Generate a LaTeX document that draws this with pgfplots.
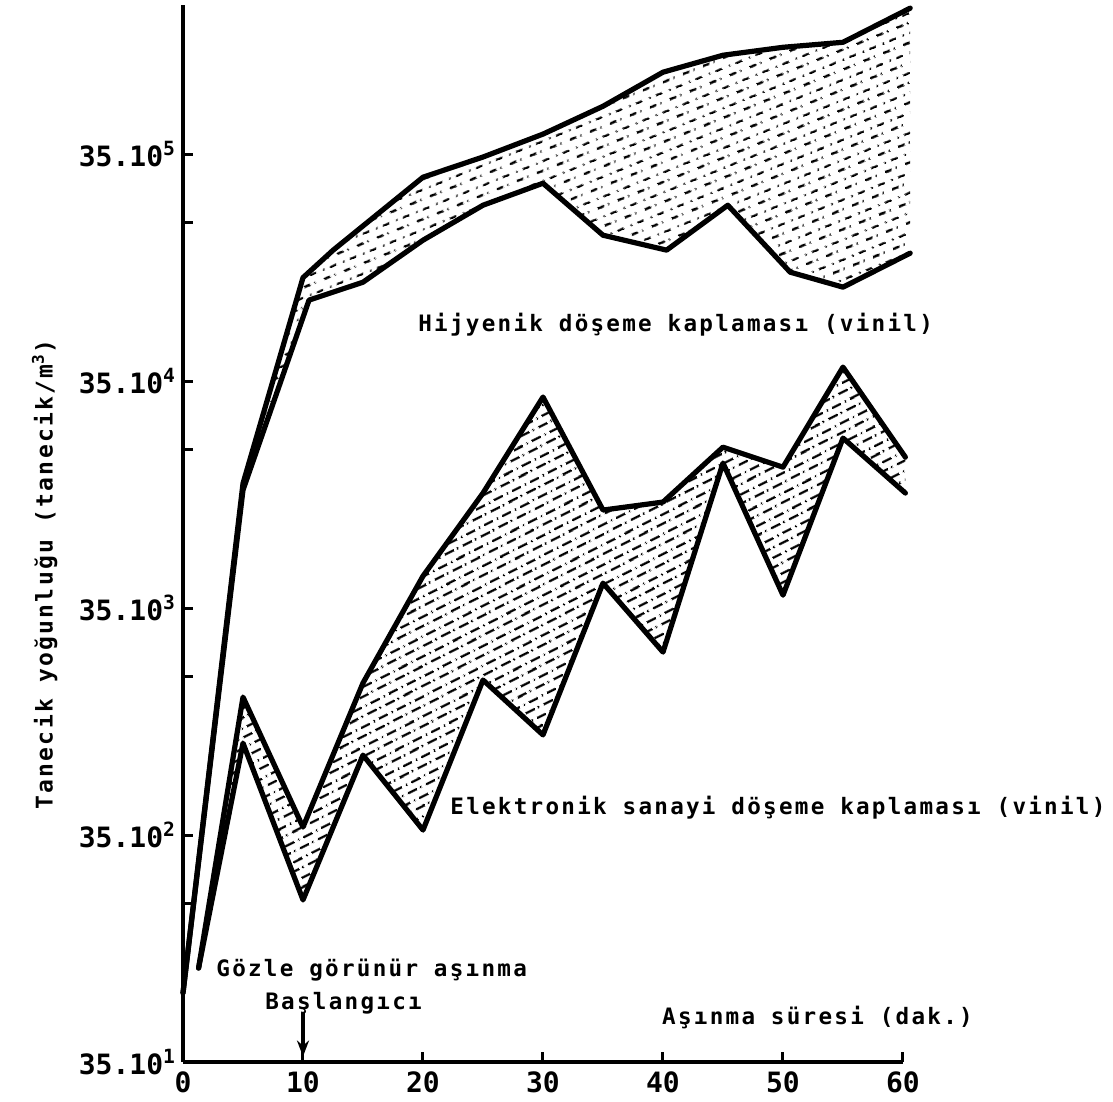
\documentclass[border=0pt]{standalone}
\usepackage{fontspec}
\setmainfont{DejaVu Sans Mono}
\newfontfamily\lblfont{DejaVu Sans Mono}[LetterSpace=10]
\usepackage{pgfplots}
\pgfplotsset{compat=1.18}
\usepgfplotslibrary{fillbetween}
\usetikzlibrary{patterns.meta,arrows.meta}

\tikzdeclarepattern{
  name=dashA,
  type=uncolored,
  bounding box={(0pt,0pt) and (10pt,9pt)},
  tile size={(10pt,9pt)},
  tile transformation={rotate=27},
  code={
    \pgfsetlinewidth{1.3pt}
    \pgfpathmoveto{\pgfpoint{0.5pt}{2.25pt}}\pgfpathlineto{\pgfpoint{5.6pt}{2.25pt}}
    \pgfpathmoveto{\pgfpoint{7.3pt}{2.25pt}}\pgfpathlineto{\pgfpoint{8.1pt}{2.25pt}}
    \pgfpathmoveto{\pgfpoint{4.6pt}{6.75pt}}\pgfpathlineto{\pgfpoint{9.5pt}{6.75pt}}
    \pgfpathmoveto{\pgfpoint{1.6pt}{6.75pt}}\pgfpathlineto{\pgfpoint{2.4pt}{6.75pt}}
    \pgfusepath{stroke}
  }
}
\tikzdeclarepattern{
  name=dashB,
  type=uncolored,
  bounding box={(0pt,0pt) and (11pt,9pt)},
  tile size={(11pt,9pt)},
  tile transformation={rotate=22},
  code={
    \pgfsetlinewidth{1.2pt}
    \pgfpathmoveto{\pgfpoint{0.6pt}{2.25pt}}\pgfpathlineto{\pgfpoint{4.2pt}{2.25pt}}
    \pgfpathmoveto{\pgfpoint{6.4pt}{2.25pt}}\pgfpathlineto{\pgfpoint{7.2pt}{2.25pt}}
    \pgfpathmoveto{\pgfpoint{5.8pt}{6.75pt}}\pgfpathlineto{\pgfpoint{9.4pt}{6.75pt}}
    \pgfpathmoveto{\pgfpoint{2.0pt}{6.75pt}}\pgfpathlineto{\pgfpoint{2.8pt}{6.75pt}}
    \pgfusepath{stroke}
  }
}

% Hijyenik doseme kaplamasi (vinil): upper and lower bounds
\pgfplotstableread{
x y
0 705
5 124000
10 1.00e6
12.5 1.32e6
20 2.77e6
25 3.40e6
30 4.29e6
35 5.69e6
40 8.04e6
45 9.55e6
50 1.035e7
55 1.089e7
60.6 1.54e7
}\hu
\pgfplotstableread{
x y
0 705
5 115900
10.5 796000
15 955000
20 1.462e6
25 2.085e6
30 2.606e6
35 1.538e6
40.3 1.322e6
45.4 2.085e6
50.6 1.057e6
55 908000
60.6 1.282e6
}\hl
% Elektronik sanayi doseme kaplamasi (vinil): upper and lower bounds
\pgfplotstableread{
x y
1.3 908
5 14190
10 3794
15 16370
20 48430
25 112400
30 297800
35 94600
40 102600
45 179100
50 146200
55 403500
60.2 161800
}\eu
\pgfplotstableread{
x y
1.3 908
5 8897
10 1812
15 7875
20 3682
25 16870
30 9664
35 45080
40 22390
45 152400
50 39900
55 196400
60.2 112400
}\el

\begin{document}
\begin{tikzpicture}
\begin{axis}[
  scale only axis, width=360pt, height=528.5pt,
  xmin=0, xmax=60, ymode=log, ymin=350, ymax=1.59e7,
  axis lines*=left,
  axis line style={line width=1.9pt},
  clip=false,
  xtick={0,10,20,30,40,50,60},
  xticklabels={0,10,20,30,40,50,60},
  ytick={350,3500,35000,350000,3500000},
  yticklabels={35.10\textsuperscript{1},35.10\textsuperscript{2},35.10\textsuperscript{3},35.10\textsuperscript{4},35.10\textsuperscript{5}},
  minor ytick={1750,17500,175000,1750000},
  major tick length=5pt, minor tick length=5pt,
  tick style={line width=1.5pt, black},
  tick align=inside,
  ticklabel style={font=\bfseries\fontsize{14}{14}\selectfont},
  xticklabel style={yshift=-1.5pt},
  ylabel={Tanecik yoğunluğu (tanecik/m\textsuperscript{3})},
  ylabel style={at={(axis description cs:-0.192,0.461)}, anchor=center, font=\lblfont\bfseries\fontsize{11.5}{13}\selectfont},
]
\addplot[name path=hu, black, line width=2.6pt, line join=round, line cap=round] table {\hu};
\addplot[name path=hl, black, line width=2.6pt, line join=round, line cap=round] table {\hl};
\addplot[name path=eu, black, line width=2.6pt, line join=round, line cap=round] table {\eu};
\addplot[name path=el, black, line width=2.6pt, line join=round, line cap=round] table {\el};
\addplot[pattern=dashB, pattern color=black, draw=none] fill between[of=hu and hl];
\addplot[pattern=dashA, pattern color=black, draw=none] fill between[of=eu and el];

\begin{scope}[every node/.style={font=\lblfont\bfseries\fontsize{11.3}{13}\selectfont, anchor=west, inner sep=0pt}]
\node at (axis cs:19.58,618000) {Hijyenik döşeme kaplaması (vinil)};
\node at (axis cs:22.25,4603) {Elektronik sanayi döşeme kaplaması (vinil)};
\node at (axis cs:2.75,889) {Gözle görünür aşınma};
\node at (axis cs:6.83,637) {Başlangıcı};
\node at (axis cs:39.9,552) {Aşınma süresi (dak.)};
\end{scope}
\draw[line width=1.6pt, -{Stealth[length=8pt,width=6pt]}] (axis cs:10,575) -- (axis cs:10,370);
\end{axis}
\pgfresetboundingbox
\path[use as bounding box] (-91.5pt,-20pt) rectangle (465pt,531pt);
\end{tikzpicture}
\end{document}
